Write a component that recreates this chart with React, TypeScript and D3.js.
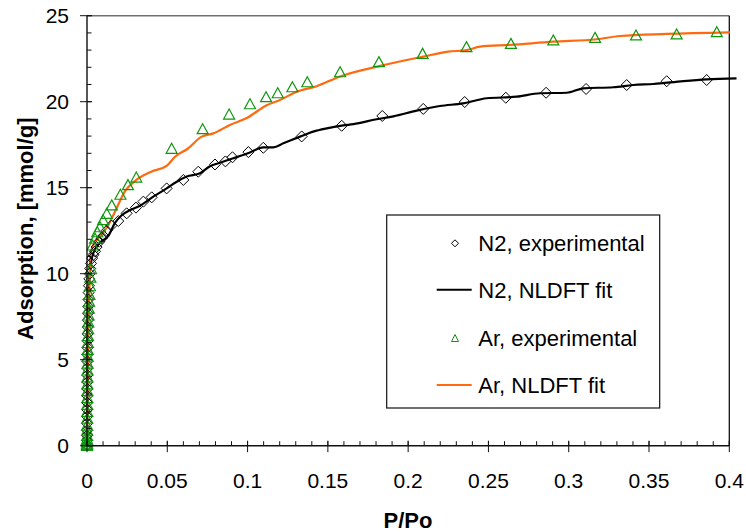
import React from "react";
import * as d3 from "d3";

// N2 isotherm, experimental points (relative pressure, uptake in mmol/g)
const n2ExpP = [
  0.00002, 0.00003, 0.00004, 0.00005, 0.00006, 0.00008, 0.0001, 0.00012, 0.00014, 0.00016,
  0.00018, 0.0002, 0.00023, 0.00026, 0.0003, 0.00034, 0.00038, 0.00043, 0.0005, 0.00057,
  0.00065, 0.00075, 0.00088, 0.001, 0.0012, 0.0014, 0.0017, 0.002, 0.0025, 0.0032,
  0.004, 0.005, 0.006, 0.0077, 0.0091, 0.0102, 0.0122, 0.0152, 0.0195, 0.0247,
  0.0305, 0.0351, 0.0403, 0.0496, 0.06, 0.0693, 0.0797, 0.0862, 0.0906, 0.1005,
  0.1098, 0.1337, 0.1586, 0.1839, 0.2094, 0.2352, 0.2608, 0.2859, 0.3108, 0.3361,
  0.361, 0.3859,
];
const n2ExpQ = [
  0.05, 0.3, 0.6, 0.9, 1.3, 1.7, 2.1, 2.5, 2.9, 3.3,
  3.7, 4.1, 4.5, 4.9, 5.3, 5.7, 6.1, 6.5, 6.9, 7.3,
  7.7, 8.1, 8.5, 8.9, 9.3, 9.7, 10.0, 10.3, 10.6, 10.9,
  11.1, 11.3, 11.55, 11.86, 12.06, 12.2, 12.5, 12.8, 13.06, 13.51,
  13.84, 14.19, 14.44, 14.96, 15.45, 15.93, 16.35, 16.53, 16.77, 17.07,
  17.32, 17.98, 18.6, 19.17, 19.58, 19.98, 20.23, 20.52, 20.74, 20.97,
  21.19, 21.26,
];

// N2 NLDFT fit curve
const n2FitP = [
  0, 0.0002, 0.0005, 0.001, 0.0019, 0.0039, 0.0081, 0.0133, 0.0174, 0.0216,
  0.0268, 0.033, 0.0413, 0.0496, 0.0559, 0.0621, 0.0704, 0.0766, 0.0828, 0.0911,
  0.1015, 0.1098, 0.116, 0.1223, 0.1327, 0.1409, 0.1493, 0.1596, 0.1659, 0.1804,
  0.1908, 0.2053, 0.2198, 0.2343, 0.2489, 0.2676, 0.2821, 0.2987, 0.3091, 0.3278,
  0.3402, 0.3527, 0.3714, 0.3859, 0.4045,
];
const n2FitQ = [
  0.1, 3.0, 6.5, 8.8, 10.2, 11.19, 11.8, 12.2, 12.95, 13.4,
  13.7, 13.95, 14.48, 14.96, 15.35, 15.65, 15.84, 16.25, 16.45, 16.71,
  17.05, 17.35, 17.35, 17.58, 17.97, 18.26, 18.45, 18.62, 18.7, 18.98,
  19.15, 19.48, 19.75, 19.9, 20.2, 20.29, 20.49, 20.52, 20.78, 20.84,
  20.97, 21.03, 21.2, 21.3, 21.36,
];

// Ar isotherm, experimental points
const arExpP = [
  0.00001, 0.00002, 0.00003, 0.00004, 0.00005, 0.00006, 0.00007, 0.00009, 0.00011, 0.00013,
  0.00015, 0.00017, 0.0002, 0.00023, 0.00027, 0.00031, 0.00036, 0.00041, 0.00047, 0.00054,
  0.00062, 0.00071, 0.00082, 0.00095, 0.0011, 0.0013, 0.0015, 0.0018, 0.0021, 0.0025,
  0.0035, 0.005, 0.0064, 0.0081, 0.01, 0.0123, 0.0154, 0.0208, 0.0255, 0.0307,
  0.0527, 0.072, 0.0885, 0.1015, 0.1115, 0.1188, 0.1279, 0.1372, 0.1576, 0.1818,
  0.209, 0.2363, 0.264, 0.2904, 0.3164, 0.3419, 0.3672, 0.3922,
];
const arExpQ = [
  0.02, 0.08, 0.15, 0.25, 0.4, 0.6, 0.9, 1.2, 1.6, 2.0,
  2.4, 2.8, 3.2, 3.6, 4.0, 4.4, 4.8, 5.2, 5.6, 6.0,
  6.4, 6.8, 7.2, 7.6, 8.0, 8.4, 8.8, 9.3, 9.8, 10.3,
  11.67, 12.06, 12.44, 12.73, 13.14, 13.51, 14.0, 14.62, 15.18, 15.62,
  17.29, 18.43, 19.28, 19.88, 20.29, 20.52, 20.87, 21.16, 21.74, 22.33,
  22.81, 23.2, 23.39, 23.59, 23.74, 23.88, 23.94, 24.07,
];

// Ar NLDFT fit curve
const arFitP = [
  0, 0.0003, 0.0008, 0.0015, 0.002, 0.004, 0.007, 0.0133, 0.0174, 0.0237,
  0.03, 0.04, 0.05, 0.0548, 0.0625, 0.0714, 0.0787, 0.089, 0.0995, 0.1119,
  0.1202, 0.1306, 0.143, 0.1576, 0.1825, 0.2094, 0.225, 0.2365, 0.2448, 0.2634,
  0.2904, 0.3174, 0.3319, 0.361, 0.4004,
];
const arFitQ = [
  0.45, 3.0, 6.5, 9.0, 11.0, 11.7, 12.06, 12.83, 13.6, 14.8,
  15.4, 15.93, 16.3, 16.8, 17.25, 17.97, 18.16, 18.65, 19.05, 19.8,
  20.1, 20.58, 20.9, 21.47, 22.08, 22.62, 22.91, 23.0, 23.2, 23.3,
  23.49, 23.63, 23.82, 23.94, 24.03,
];

const xMajorTicks = [0, 0.05, 0.1, 0.15, 0.2, 0.25, 0.3, 0.35, 0.4];
const xTickLabels = ["0", "0.05", "0.1", "0.15", "0.2", "0.25", "0.3", "0.35", "0.4"];
const yMajorTicks = [0, 5, 10, 15, 20, 25];
const yTickLabels = ["0", "5", "10", "15", "20", "25"];
const legendLabels = ["N2, experimental", "N2, NLDFT fit", "Ar, experimental", "Ar, NLDFT fit"];

const W = 746;
const H = 532;
const plot = { left: 87, right: 729.3, top: 15.7, bottom: 445.7 };
const FONT = "'Liberation Sans', Arial, sans-serif";
const GREEN = "#0f960f";
const ORANGE = "#ff6a10";

const x = d3.scaleLinear().domain([0, 0.4]).range([plot.left, plot.right]);
const y = d3.scaleLinear().domain([0, 25]).range([plot.bottom, plot.top]);

const zip = (a: number[], b: number[]) => a.map((v, i) => [v, b[i]] as [number, number]);

const line = d3
  .line<[number, number]>()
  .x((d) => x(d[0]))
  .y((d) => y(d[1]))
  .curve(d3.curveMonotoneX);

const diamond = (cx: number, cy: number, r: number) =>
  `M${cx},${cy - r}L${cx + r},${cy}L${cx},${cy + r}L${cx - r},${cy}Z`;
const triangle = (cx: number, cy: number, w: number, h: number) =>
  `M${cx},${cy - h / 2}L${cx + w / 2},${cy + h / 2}L${cx - w / 2},${cy + h / 2}Z`;

export default function App() {
  const xMinor = d3.range(0, 41).map((i) => i / 100);
  const yMinor = d3.range(0, 26);

  const legendRows = [243.3, 289.8, 338, 385];
  const legendSymbolX = 455;

  return (
    <svg
      width={W}
      height={H}
      style={{ position: "absolute", left: 0, top: 0, background: "#fff" }}
      fontFamily={FONT}
    >
      {/* plot frame */}
      <line x1={plot.left} x2={plot.right} y1={plot.top} y2={plot.top} stroke="#707070" strokeWidth={1.5} />
      <line x1={plot.right} x2={plot.right} y1={plot.top} y2={plot.bottom} stroke="#111" strokeWidth={1.3} />

      {/* fit curves */}
      <path d={line(zip(n2FitP, n2FitQ)) ?? ""} fill="none" stroke="#000" strokeWidth={2.2} />
      <path d={line(zip(arFitP, arFitQ)) ?? ""} fill="none" stroke={ORANGE} strokeWidth={2.2} />

      {/* experimental points */}
      {zip(n2ExpP, n2ExpQ).map(([p, q], i) => (
        <path key={`n2-${i}`} d={diamond(x(p), y(q), 5.5)} fill="none" stroke="#000" strokeWidth={1} />
      ))}
      {zip(arExpP, arExpQ).map(([p, q], i) => (
        <path key={`ar-${i}`} d={triangle(x(p), y(q), 11, 10)} fill="none" stroke={GREEN} strokeWidth={1.2} />
      ))}

      {/* x axis */}
      <line x1={plot.left} x2={plot.right} y1={plot.bottom} y2={plot.bottom} stroke="#111" strokeWidth={1.4} />
      {xMinor.map((v) => (
        <line key={`xm-${v}`} x1={x(v)} x2={x(v)} y1={plot.bottom - 4.5} y2={plot.bottom} stroke="#111" strokeWidth={1} />
      ))}
      {xMajorTicks.map((v, i) => (
        <g key={`xt-${v}`}>
          <line x1={x(v)} x2={x(v)} y1={plot.bottom - 5} y2={plot.bottom + 6.5} stroke="#111" strokeWidth={1} />
          <text x={x(v)} y={488} textAnchor="middle" fontSize={21} fill="#000">
            {xTickLabels[i]}
          </text>
        </g>
      ))}

      {/* y axis */}
      <line x1={plot.left} x2={plot.left} y1={plot.top} y2={plot.bottom} stroke="#111" strokeWidth={1.4} />
      {yMinor.map((v) => (
        <line key={`ym-${v}`} x1={plot.left} x2={plot.left + 4.5} y1={y(v)} y2={y(v)} stroke="#111" strokeWidth={1} />
      ))}
      {yMajorTicks.map((v, i) => (
        <g key={`yt-${v}`}>
          <line x1={plot.left - 7} x2={plot.left + 5} y1={y(v)} y2={y(v)} stroke="#111" strokeWidth={1} />
          <text x={69} y={y(v)} dy="0.36em" textAnchor="end" fontSize={21} fill="#000">
            {yTickLabels[i]}
          </text>
        </g>
      ))}

      {/* axis titles */}
      <text x={408} y={528} textAnchor="middle" fontSize={22} fontWeight="bold" fill="#000">
        P/Po
      </text>
      <text
        transform={`translate(33, ${(plot.top + plot.bottom) / 2 - 2}) rotate(-90)`}
        textAnchor="middle"
        fontSize={22}
        fontWeight="bold"
        fill="#000"
      >
        Adsorption, [mmol/g]
      </text>

      {/* legend */}
      <rect x={386.7} y={215} width={273} height={193} fill="#fff" stroke="#111" strokeWidth={1.2} />
      <path d={diamond(legendSymbolX, legendRows[0], 3.5)} fill="none" stroke="#000" strokeWidth={1} />
      <line x1={436.7} x2={471.7} y1={legendRows[1]} y2={legendRows[1]} stroke="#000" strokeWidth={2} />
      <path d={triangle(legendSymbolX, legendRows[2], 7, 7)} fill="none" stroke={GREEN} strokeWidth={1} />
      <line x1={436.7} x2={471.7} y1={legendRows[3]} y2={legendRows[3]} stroke={ORANGE} strokeWidth={2} />
      {legendLabels.map((label, i) => (
        <text key={label} x={478.3} y={legendRows[i]} dy="0.36em" fontSize={22} fill="#000">
          {label}
        </text>
      ))}
    </svg>
  );
}
